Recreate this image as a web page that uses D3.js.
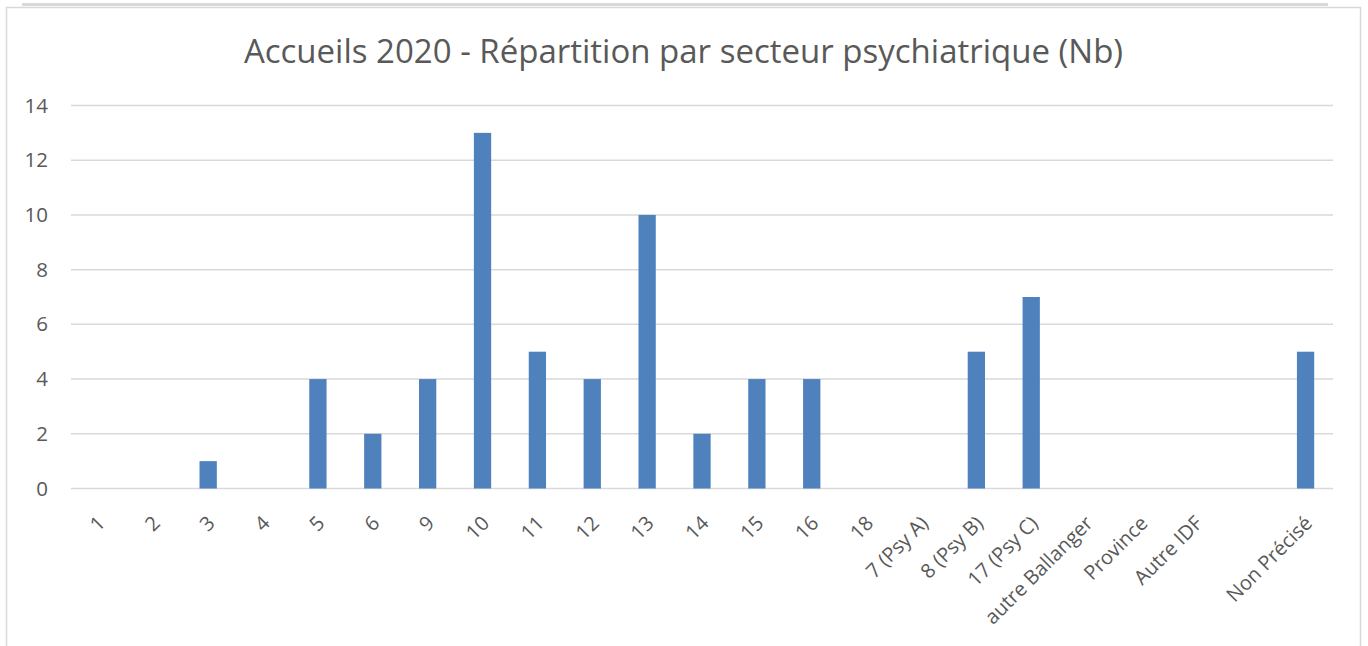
<!DOCTYPE html>
<html>
<head>
<meta charset="utf-8">
<script src="https://cdn.jsdelivr.net/npm/d3@7"></script>
<style>
  html, body { margin: 0; padding: 0; background: #ffffff; }
  svg { display: block; }
</style>
</head>
<body>
<svg id="chart" width="1368" height="646"></svg>
<script>
const categories = ["1", "2", "3", "4", "5", "6", "9", "10", "11", "12", "13", "14", "15", "16", "18",
  "7 (Psy A)", "8 (Psy B)", "17 (Psy C)", "autre Ballanger", "Province", "Autre IDF", "", "Non Précisé"];
const values = [0, 0, 1, 0, 4, 2, 4, 13, 5, 4, 10, 2, 4, 4, 0, 0, 5, 7, 0, 0, 0, 0, 5];
const yTicks = [0, 2, 4, 6, 8, 10, 12, 14];
const title = "Accueils 2020 - Répartition par secteur psychiatrique (Nb)";

(function () {
const svg = d3.select("#chart");
const font = "'Open Sans', sans-serif";
const textColor = "#595959";

// frame
svg.append("rect").attr("x", 22).attr("y", 3).attr("width", 1306).attr("height", 3).attr("fill", "#d9d9d9");
svg.append("rect").attr("x", 6.5).attr("y", 7.5).attr("width", 1354).attr("height", 700)
  .attr("fill", "#ffffff").attr("stroke", "#d9d9d9").attr("stroke-width", 1.5);

const pLeft = 71, pRight = 1333, pTop = 105.5, pBottom = 488.5;

const x = d3.scaleBand().domain(d3.range(categories.length)).range([pLeft, pRight]).paddingInner(0.685).paddingOuter(0.3425);
const y = d3.scaleLinear().domain([0, 14]).range([pBottom, pTop]);

// gridlines
svg.append("g").selectAll("line").data(yTicks).join("line")
  .attr("x1", pLeft).attr("x2", pRight)
  .attr("y1", d => y(d)).attr("y2", d => y(d))
  .attr("stroke", "#d9d9d9").attr("stroke-width", 1.5);

// y axis labels
const yAxis = d3.axisLeft(y).tickValues(yTicks).tickSize(0).tickPadding(0);
const gy = svg.append("g").attr("transform", `translate(48,0)`).call(yAxis);
gy.select(".domain").remove();
gy.selectAll("text").attr("font-family", font).attr("font-size", 20.5).attr("fill", textColor);

// bars
svg.append("g").selectAll("rect").data(values).join("rect")
  .attr("x", (d, i) => x(i))
  .attr("width", x.bandwidth())
  .attr("y", d => y(d))
  .attr("height", d => y(0) - y(d))
  .attr("fill", "#4f81bd");

// x axis labels
const xAxis = d3.axisBottom(x).tickFormat(i => categories[i]).tickSize(0).tickPadding(0);
const gx = svg.append("g").attr("transform", `translate(0,${pBottom})`).call(xAxis);
gx.select(".domain").remove();
gx.selectAll("text")
  .attr("font-family", font).attr("font-size", 20).attr("fill", textColor)
  .attr("text-anchor", "end")
  .attr("dy", null)
  .attr("y", 0)
  .attr("transform", "translate(8,36) rotate(-45)");

// title
svg.append("text").attr("x", 683.5).attr("y", 63)
  .attr("text-anchor", "middle")
  .attr("font-family", font).attr("font-size", 33).attr("fill", textColor)
  .text(title);
})();
</script>
</body>
</html>
